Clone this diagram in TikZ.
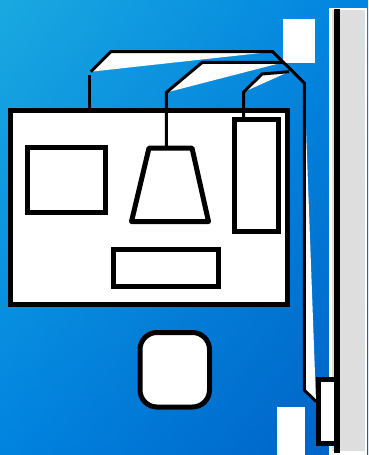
\documentclass[tikz,border=0pt]{standalone}
\usepackage{tikz}
\usetikzlibrary{shadings}
\definecolor{skytl}{HTML}{1AA9E0}
\definecolor{skymid}{HTML}{0083E0}
\definecolor{skybr}{HTML}{0060C4}
\definecolor{panelgrey}{HTML}{DEDEDE}
\tikzset{
  box/.style={draw=black,fill=white,line width=5pt,inner sep=0pt,outer sep=0pt},
  sheet/.style={fill=white,inner sep=0pt,outer sep=0pt},
  wire/.style={draw=black,line width=3pt,line join=miter},
  wirefill/.style={fill=white,draw=none},
}

\begin{document}
\begin{tikzpicture}[x=1pt,y=-1pt]
      \useasboundingbox (0,0) rectangle (368,455);
      \shade[upper left=skytl,upper right=skymid,lower left=skymid,lower right=skybr] (0,0) rectangle (368,455);
      % panel on the right edge
      \fill[white] (329.3,8.3) rectangle (366.7,455);
      \fill[panelgrey] (332,10) rectangle (365,451);
      % loose white sheets
      \node[sheet,minimum width=32.3pt,minimum height=44.6pt] (sheettop) at (298.85,41) {};
      \node[sheet,minimum width=27.4pt,minimum height=47.7pt] (sheetbot) at (291,431.15) {};
      % the boxes
      \node[box,minimum width=276.7pt,minimum height=194pt] (frame) at (148.65,207.7) {};
      \node[box,minimum width=78.2pt,minimum height=65pt] (screen) at (66.6,180) {};
      \draw[box,line join=round] (149,148) coordinate (lens) -- (192,148) -- (208.5,221.5) -- (131.5,221.5) -- cycle;
      \node[box,minimum width=43.7pt,minimum height=111.2pt] (tower) at (256.65,175.4) {};
      \node[box,minimum width=104.7pt,minimum height=37.6pt] (tray) at (165.85,268) {};
      \node[box,rounded corners=17pt,minimum width=69.5pt,minimum height=74.5pt] (pad) at (174.75,369.75) {};
      \node[box,minimum width=18pt,minimum height=64.5pt] (clip) at (327.3,411.25) {};
      % bar over the panel
      \fill[black] (334.3,9) rectangle (339.7,453);
      % bends of the three wires
      \coordinate (oneA) at (89.3,75);
      \coordinate (oneB) at (90.7,71.7);
      \coordinate (oneC) at (110.7,51.7);
      \coordinate (oneD) at (272.7,51.7);
      \coordinate (oneE) at (304.3,83);
      \coordinate (oneF) at (304.3,390);
      \coordinate (oneG) at (316,401.5);
      \coordinate (twoA) at (166.3,92.5);
      \coordinate (twoB) at (202.3,62.3);
      \coordinate (twoC) at (283.3,62.3);
      \coordinate (threeA) at (243.7,92);
      \coordinate (threeB) at (262,74);
      \coordinate (threeC) at (289,71.7);
      % white wedges behind the wires
      \fill[wirefill] (oneB) -- (oneC) -- (oneD) -- cycle;
      \fill[wirefill] (oneE) -- (oneF) -- (oneG) -- cycle;
      \fill[wirefill] (twoA) -- (twoB) -- (twoC) -- cycle;
      \fill[wirefill] (threeA) -- (threeB) -- (threeC) -- cycle;
      \draw[wire] (frame.north -| oneA) -- (oneA);
      \draw[wire] (oneB) -- (oneC) -- (oneD) -- (oneE) -- (oneF) -- (oneG);
      \draw[wire] (lens -| twoA) -- (twoA) -- (twoB) -- (twoC);
      \draw[wire] (tower.north -| threeA) -- (threeA) -- (threeB) -- (threeC);
    \end{tikzpicture}
\end{document}
